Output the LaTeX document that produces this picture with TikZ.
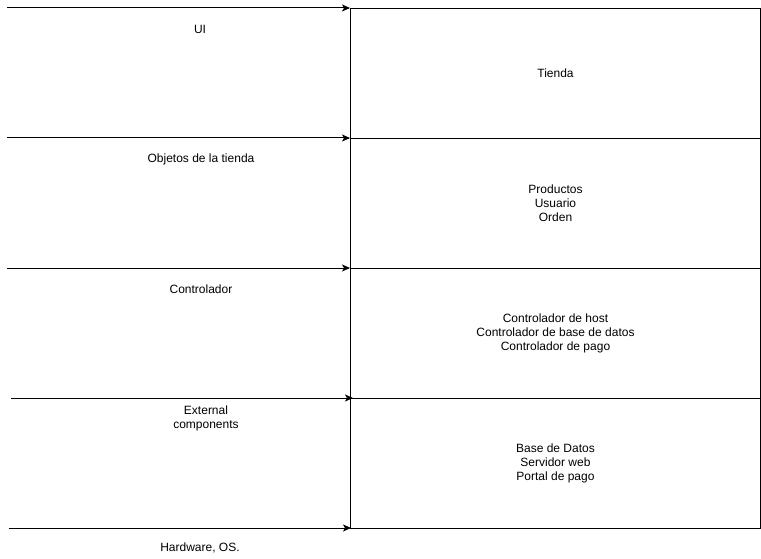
\documentclass[tikz,border=0pt]{standalone}
\usepackage{fontspec}
\setmainfont{Liberation Sans}
\usetikzlibrary{arrows.meta}
\begin{document}
\begin{tikzpicture}[x=1pt,y=-1pt,
  layerbox/.style={draw,line width=1pt,minimum width=410pt,minimum height=130pt,inner sep=0pt,anchor=north west,align=center,font=\fontsize{12}{14}\selectfont},
  lbl/.style={align=center,font=\fontsize{12}{14}\selectfont,inner sep=0pt},
  arr/.style={line width=1pt,-{Stealth[length=8pt,width=7pt,inset=2pt]}}]
\useasboundingbox (0,0) rectangle (761,559);
\node[layerbox] (b1) at (350,8) {Tienda};
\node[layerbox] (b2) at (350,138) {Productos\\Usuario\\Orden};
\node[layerbox] (b3) at (350,268) {Controlador de host\\Controlador de base de datos\\Controlador de pago};
\node[layerbox] (b4) at (350,398) {Base de Datos\\Servidor web\\Portal de pago};
\coordinate (s1) at (7,8);
\coordinate (s2) at (7,138);
\coordinate (s3) at (7,268);
\coordinate (s4) at (11,398);
\coordinate (s5) at (9,528);
\coordinate (e4) at (353,398);
\coordinate (e5) at (351,528);
\draw[arr] (s1) -- (b1.north west);
\draw[arr] (s2) -- (b2.north west);
\draw[arr] (s3) -- (b3.north west);
\draw[arr] (s4) -- (e4);
\draw[arr] (s5) -- (e5);
\node[lbl] (l1) at (200,29) {UI};
\node[lbl] (l2) at (201,159) {Objetos de la tienda};
\node[lbl] (l3) at (201,289) {Controlador};
\node[lbl] (l4) at (206,418.5) {External\\components};
\node[lbl] (l5) at (200,548) {Hardware, OS.};
\end{tikzpicture}
\end{document}
